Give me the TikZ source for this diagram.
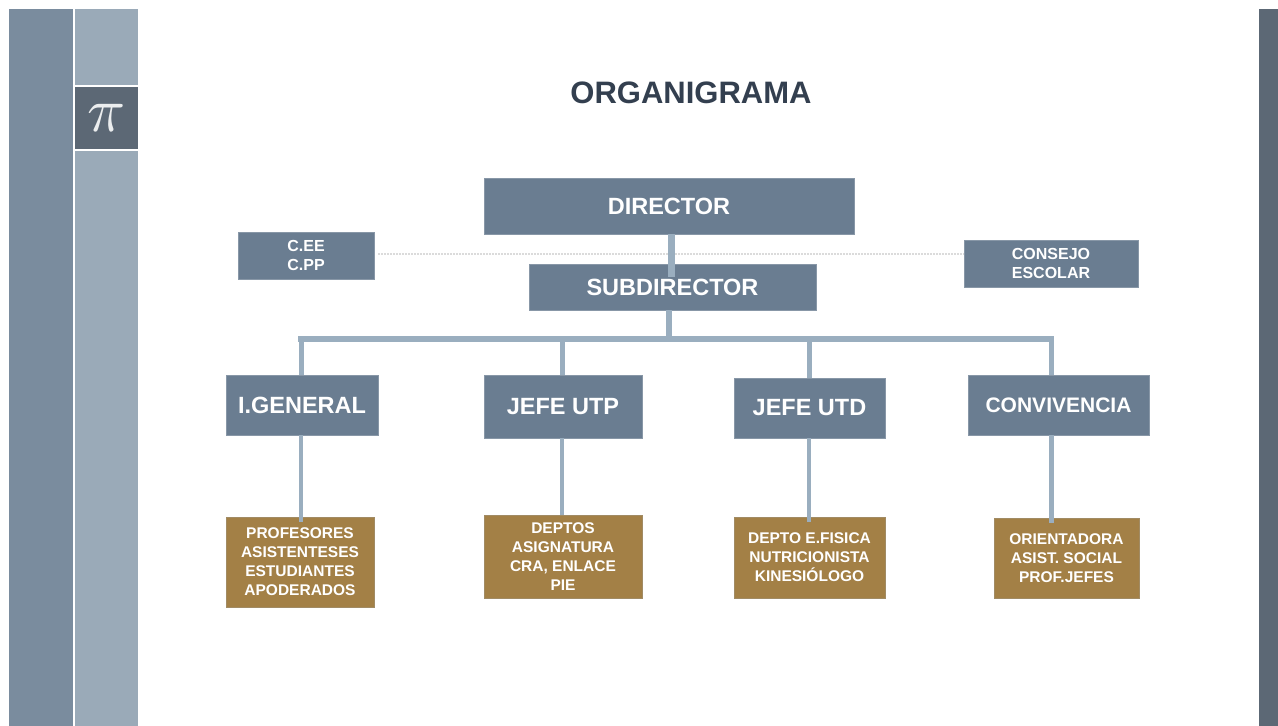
\documentclass[tikz,border=0pt]{standalone}
\usepackage{fontspec}
\setmainfont{Liberation Sans}
\definecolor{colA}{HTML}{7A8C9E}
\definecolor{colB}{HTML}{9AAAB8}
\definecolor{colDark}{HTML}{5C6875}
\definecolor{boxBlue}{HTML}{6A7D91}
\definecolor{boxBrown}{HTML}{A38046}
\definecolor{edgeBlue}{HTML}{9AAEBF}
\definecolor{titleInk}{HTML}{333F4F}
\tikzset{
  panel/.style={fill=#1,draw=none},
  basebox/.style={draw=#1,line width=0.8pt,inner sep=0pt,outer sep=0pt,align=center,text=white,font=\bfseries},
  bluebox/.style={basebox=boxBlue!80!white,fill=boxBlue},
  brownbox/.style={basebox=boxBrown!75!edgeBlue,fill=boxBrown},
  bigtext/.style={font=\fontsize{23.5}{27}\selectfont\bfseries},
  midtext/.style={font=\fontsize{21}{25}\selectfont\bfseries},
  smalltext/.style={font=\fontsize{16}{19}\selectfont\bfseries},
  tinytext/.style={font=\fontsize{15.5}{19}\selectfont\bfseries},
  bar/.style={draw=edgeBlue,line width=#1},
  bar/.default=5pt,
  dotline/.style={draw=black!14,line width=1.5pt,dash pattern=on 1.5pt off 1.5pt}
}
\begin{document}
\begin{tikzpicture}[x=1pt,y=-1pt]
\useasboundingbox (0,0) rectangle (1278,726);
% sidebars
\fill[colA] (9,9) rectangle (73,726);
\fill[colB] (75,9) rectangle (138,85);
\fill[colB] (75,151) rectangle (138,726);
\fill[colDark] (1259,9) rectangle (1278,726);
\node[panel=colDark,minimum width=63pt,minimum height=62pt,inner sep=0pt,text=white!88!colDark] (pi) at (106.5,118) {\scalebox{6.3}{$\pi$}};
% title
\node[text=titleInk,font=\fontsize{31}{36}\selectfont\bfseries,inner sep=0pt] (title) at (691,93) {ORGANIGRAMA};
% upper boxes
\node[bluebox,bigtext,minimum width=370pt,minimum height=56pt] (dir) at (669,206) {DIRECTOR};
\node[bluebox,smalltext,minimum width=136pt,minimum height=47pt] (cee) at (306,255.5) {C.EE\\C.PP};
\node[bluebox,smalltext,minimum width=174pt,minimum height=47pt] (cons) at (1051,263.5) {CONSEJO\\ESCOLAR};
\node[bluebox,minimum width=287pt,minimum height=46pt] (subbox) at (672.5,287) {};
% connectors of the upper part
\coordinate (dirdrop) at (671,277);
\coordinate (dotL) at (378,254);
\coordinate (bus) at (669,339);
\coordinate (busL) at (301,339);
\coordinate (busU) at (562,339);
\coordinate (busD) at (809,339);
\coordinate (busR) at (1051,339);
\draw[dotline] (dotL) -- (dotL -| cons.west);
\draw[bar=7pt] (dirdrop |- dir.south) -- (dirdrop);
\node[text=white,bigtext,inner sep=0pt] (sub) at (subbox.center) {SUBDIRECTOR};
% second row
\node[bluebox,bigtext,minimum width=152pt,minimum height=60pt] (gen) at (302,405) {I.GENERAL};
\node[bluebox,bigtext,minimum width=158pt,minimum height=63pt] (utp) at (563,406.5) {JEFE UTP};
\node[bluebox,bigtext,minimum width=151pt,minimum height=60pt] (utd) at (809.5,408) {JEFE UTD};
\node[bluebox,midtext,minimum width=181pt,minimum height=60pt] (conv) at (1058.5,405) {CONVIVENCIA};
% third row
\node[brownbox,tinytext,minimum width=148pt,minimum height=90pt] (prof) at (300,562) {PROFESORES\\ASISTENTESES\\ESTUDIANTES\\APODERADOS};
\node[brownbox,tinytext,minimum width=158pt,minimum height=83pt] (dep) at (563,556.5) {DEPTOS\\ASIGNATURA\\CRA, ENLACE\\PIE};
\node[brownbox,tinytext,minimum width=151pt,minimum height=81pt] (fis) at (809.5,557.5) {DEPTO E.FISICA\\NUTRICIONISTA\\KINESIÓLOGO};
\node[brownbox,tinytext,minimum width=145pt,minimum height=80pt] (ori) at (1066.5,558) {ORIENTADORA\\ASIST. SOCIAL\\PROF.JEFES};
% bus and drops
\draw[bar=6pt] (bus |- subbox.south) -- (bus);
\draw[bar=6pt,line cap=rect] (busL) -- (busR);
\draw[bar] (busL) -- (busL |- gen.north);
\draw[bar] (busU) -- (busU |- utp.north);
\draw[bar] (busD) -- (busD |- utd.north);
\draw[bar] (busR) -- (busR |- conv.north);
\coordinate (endL) at (301,522);
\coordinate (endD) at (809,522);
\coordinate (endR) at (1051,523);
\draw[bar=4pt] (endL |- gen.south) -- (endL);
\draw[bar=4pt] (busU |- utp.south) -- (busU |- dep.north);
\draw[bar=4pt] (endD |- utd.south) -- (endD);
\draw[bar] (endR |- conv.south) -- (endR);
\end{tikzpicture}
\end{document}
